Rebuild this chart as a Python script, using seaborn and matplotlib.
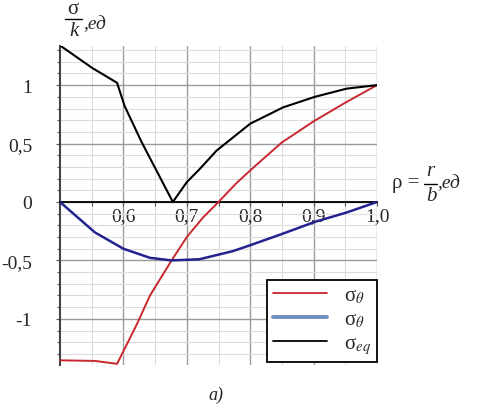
import numpy as np
import pandas as pd
import matplotlib
matplotlib.use("Agg")
import matplotlib.pyplot as plt
import seaborn as sns
from matplotlib.ticker import MultipleLocator, FuncFormatter
from matplotlib.lines import Line2D

# ---- data ----
rho_t = [0.5, 0.555, 0.59, 0.62, 0.642, 0.676, 0.70, 0.726, 0.75, 0.778, 0.804, 0.85, 0.90, 0.95, 1.0]
sig_t = [-1.355, -1.36, -1.385, -1.06, -0.80, -0.50, -0.30, -0.13, 0.0, 0.16, 0.29, 0.51, 0.69, 0.85, 1.0]

rho_r = [0.5, 0.555, 0.6, 0.642, 0.676, 0.72, 0.773, 0.80, 0.826, 0.852, 0.902, 0.952, 1.0]
sig_r = [0.0, -0.26, -0.40, -0.478, -0.50, -0.49, -0.42, -0.37, -0.32, -0.27, -0.17, -0.09, 0.0]

rho_eq = [0.5, 0.55, 0.59, 0.602, 0.629, 0.678, 0.70, 0.72, 0.747, 0.80, 0.852, 0.902, 0.952, 1.0]
sig_eq = [1.34, 1.15, 1.02, 0.82, 0.51, 0.0, 0.17, 0.28, 0.44, 0.67, 0.81, 0.90, 0.97, 1.0]

legend_labels = ['σ$_{\\theta}$', 'σ$_{\\theta}$', 'σ$_{eq}$']
x_ticks = [0.6, 0.7, 0.8, 0.9, 1.0]
y_ticks = [-1, -0.5, 0, 0.5, 1]

sns.set_theme(style="white")
plt.rcParams['font.family'] = ['Liberation Serif', 'DejaVu Serif']
plt.rcParams['mathtext.fontset'] = 'stix'

W, H = 490, 406
fig = plt.figure(figsize=(W / 100, H / 100), dpi=100)
ax = fig.add_axes([60 / W, 1 - 366 / H, 317 / W, 319 / H])

red = '#c8282e'
navy = '#23238f'
df_t = pd.DataFrame({'rho': rho_t, 'v': sig_t})
df_r = pd.DataFrame({'rho': rho_r, 'v': sig_r})
df_e = pd.DataFrame({'rho': rho_eq, 'v': sig_eq})
sns.lineplot(data=df_t, x='rho', y='v', ax=ax, color=red, lw=1.4, sort=False, zorder=4)
sns.lineplot(data=df_r, x='rho', y='v', ax=ax, color=navy, lw=1.8, sort=False, zorder=4)
sns.lineplot(data=df_e, x='rho', y='v', ax=ax, color='black', lw=1.5, sort=False, zorder=4)

ax.set_xlim(0.5, 1.0)
ax.set_ylim(-1.395, 1.335)
ax.set_xlabel('')
ax.set_ylabel('')

ax.xaxis.set_major_locator(plt.FixedLocator(x_ticks))
ax.xaxis.set_minor_locator(MultipleLocator(0.05))
ax.yaxis.set_major_locator(plt.FixedLocator(y_ticks))
ax.yaxis.set_minor_locator(MultipleLocator(0.1))

ax.xaxis.set_major_formatter(FuncFormatter(lambda v, p: ('%.1f' % v).replace('.', ',')))
ax.yaxis.set_major_formatter(FuncFormatter(lambda v, p: ('%g' % v).replace('.', ',')))

ax.grid(True, which='major', color='#9a9a9a', lw=1.0, zorder=0)
ax.grid(True, which='minor', color='#dcdcdc', lw=0.8, zorder=0)
ax.set_axisbelow(True)

for s in ['top', 'right']:
    ax.spines[s].set_visible(False)
ax.spines['bottom'].set_position(('data', 0))
ax.spines['bottom'].set_color('black')
ax.spines['bottom'].set_linewidth(1.3)
ax.spines['left'].set_color('#444444')
ax.spines['left'].set_linewidth(1.5)

ax.tick_params(axis='x', which='both', direction='out', length=3, width=0.8, color='#555555',
               labelsize=14, pad=1, bottom=True)
ax.tick_params(axis='y', which='major', direction='out', length=3, width=0.8, color='#555555',
               labelsize=14, pad=17, left=True)
ax.tick_params(axis='y', which='minor', direction='out', length=2, width=0.8, color='#555555', left=True)

handles = [Line2D([0], [0], color=red, lw=1.3),
           Line2D([0], [0], color='#6f8fbf', lw=2.8),
           Line2D([0], [0], color='black', lw=1.3)]
leg = ax.legend(handles, legend_labels, loc='lower right', bbox_to_anchor=(1.0, 0.01),
                fontsize=15, frameon=True, fancybox=False, framealpha=1, edgecolor='black',
                handlelength=2.6, borderpad=0.3, labelspacing=0.2, handletextpad=0.8,
                borderaxespad=0)
leg.get_frame().set_linewidth(1.3)


def ft(x, y, s, **kw):
    fig.text(x / W, 1 - y / H, s, **kw)


def fline(x0, x1, y):
    fig.add_artist(Line2D([x0 / W, x1 / W], [1 - y / H, 1 - y / H], transform=fig.transFigure,
                          color='black', lw=1.0))


# y axis label: sigma / k , ед
ft(73, 10, 'σ', fontsize=15, ha='center', va='center')
fline(65, 82, 20)
ft(74, 32, 'k', fontsize=15, style='italic', ha='center', va='center')
ft(83, 29, ',ед', fontsize=14, style='italic', ha='left', va='baseline')

# x axis label: rho = r / b , ед
ft(392, 188, 'ρ =', fontsize=15, ha='left', va='baseline')
fline(424, 437, 185)
ft(430, 172, 'r', fontsize=15, style='italic', ha='center', va='center')
ft(431, 197, 'b', fontsize=15, style='italic', ha='center', va='center')
ft(437, 188, ',ед', fontsize=14, style='italic', ha='left', va='baseline')

ft(216, 395, 'а)', fontsize=13, style='italic', ha='center', va='center')

fig.savefig('out.png', dpi=100)
